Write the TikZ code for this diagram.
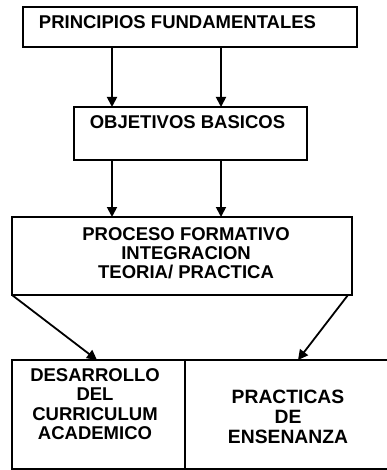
\documentclass[tikz,border=0pt]{standalone}
\usepackage{fontspec}
\setmainfont{Liberation Sans}
\usetikzlibrary{arrows.meta}
\tikzset{
  box/.style={draw=black, line width=1.9pt, rectangle, inner sep=0pt, outer sep=0pt},
  txt/.style={font=\fontsize{18.5}{19}\selectfont\bfseries, align=center, inner sep=0pt, text depth=0pt},
  txtb/.style={font=\fontsize{19.3}{20}\selectfont\bfseries, align=center, inner sep=0pt, text depth=0pt},
  arr/.style={line width=1.8pt, -{Triangle[length=10pt,width=10pt]}},
}
\begin{document}
\begin{tikzpicture}[x=1pt,y=-1pt]
\useasboundingbox (0,0) rectangle (387,470);
% boxes
\node[box, minimum width=334pt, minimum height=40pt] (b1) at (190,27) {};
\node[box, minimum width=233pt, minimum height=53pt] (b2) at (190.5,133.5) {};
\node[box, minimum width=340pt, minimum height=78pt] (b3) at (182,256) {};
\node[box, minimum width=173pt, minimum height=109pt] (bl) at (98.5,414.5) {};
\node[box, minimum width=215pt, minimum height=109pt] (br) at (292.5,414.5) {};
% texts
\node[txt] (t1) at (177.5,22.5) {PRINCIPIOS FUNDAMENTALES};
\node[txt] (t2) at (187.5,122.5) {OBJETIVOS BASICOS};
\node[txt] (t3) at (186,253) {PROCESO FORMATIVO\\INTEGRACION\\TEORIA/ PRACTICA};
\node[txt, font=\fontsize{18.5}{19.3}\selectfont\bfseries] (t4) at (95,404) {DESARROLLO\\DEL\\CURRICULUM\\ACADEMICO};
\node[txtb] (t5) at (288,417) {PRACTICAS\\DE\\ENSENANZA};
% connectors
\draw[arr] ([xshift=89pt]b1.south west) -- ([xshift=38pt]b2.north west);
\draw[arr] ([xshift=198pt]b1.south west) -- ([xshift=147pt]b2.north west);
\draw[arr] ([xshift=38pt]b2.south west) -- ([xshift=100pt]b3.north west);
\draw[arr] ([xshift=147pt]b2.south west) -- ([xshift=209pt]b3.north west);
\draw[arr] (b3.south west) -- ([xshift=85pt]bl.north west);
\draw[arr] ([xshift=-4pt]b3.south east) -- ([xshift=113pt]bl.north east);
\end{tikzpicture}
\end{document}
